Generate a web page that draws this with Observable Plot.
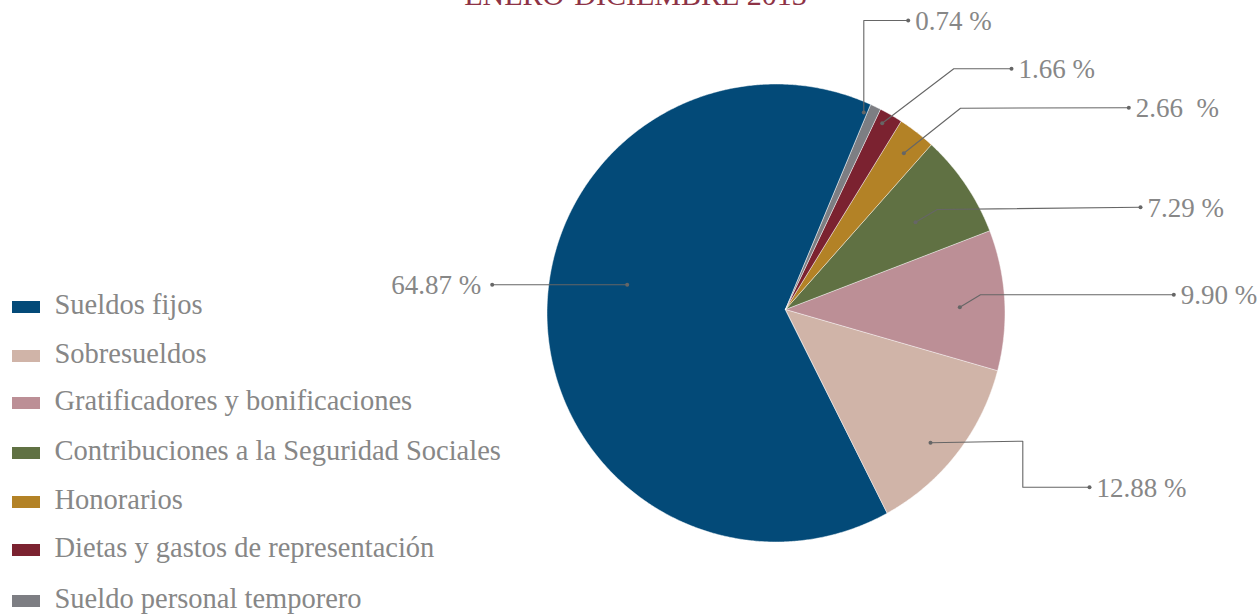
<!DOCTYPE html>
<html><head><meta charset="utf-8">
<script src="https://cdn.jsdelivr.net/npm/d3@7"></script>
<script src="https://cdn.jsdelivr.net/npm/@observablehq/plot@0.6"></script>
<style>body{margin:0;background:#fff;overflow:hidden}</style>
</head><body><div id="chart"></div>
<script>
// ---- data ----
const title = "ENERO-DICIEMBRE 2013";
const categories = [
  "Sueldos fijos",
  "Sobresueldos",
  "Gratificadores y bonificaciones",
  "Contribuciones a la Seguridad Sociales",
  "Honorarios",
  "Dietas y gastos de representación",
  "Sueldo personal temporero"
];
const percents = [64.87, 12.88, 9.90, 7.29, 2.66, 1.66, 0.74];
const valueLabels = ["64.87 %", "12.88 %", "9.90 %", "7.29 %", "2.66  %", "1.66 %", "0.74 %"];

// ---- styles ----
const palette = ["#034a78", "#d0b4a8", "#bc8f96", "#607143", "#b38226", "#7b2230", "#7d7e83"];
const textGray = "#878787";
const lineGray = "#666666";
const font = "Liberation Serif";

// ---- layout ----
const W = 1258, H = 616;
const pieGeom = {cx: 775.5, cy: 312.5, r: 229, ax: 785, ay: 309, startDeg: 24.5};
const legendY = [307, 356, 403, 453, 502, 550, 601];
const leaderPaths = [
  [[626.7, 284.3], [491.7, 284.3]],
  [[930, 442.3], [1022.3, 440.7], [1022.3, 486.7], [1089, 486.7]],
  [[959.3, 306.7], [980, 294.3], [1173.3, 294.3]],
  [[915, 221.7], [936.7, 209], [1140, 206.7]],
  [[903.3, 152.7], [960, 107.7], [1128.3, 107.3]],
  [[881.7, 122.7], [953.3, 68.3], [1011, 68.3]],
  [[863.3, 112], [863.3, 20], [907.7, 20]]
];

// ---- build pie polygons from the data ----
const rad = Math.PI / 180;
const arcs = d3.pie().sort(null)
  .startAngle(pieGeom.startDeg * rad)
  .endAngle(pieGeom.startDeg * rad - 2 * Math.PI)(percents);
const pieRows = [];
arcs.forEach((a, i) => {
  const key = categories[i];
  pieRows.push({key, x: pieGeom.ax, y: pieGeom.ay});
  const n = Math.max(2, Math.ceil(Math.abs(a.endAngle - a.startAngle) / (0.4 * rad)) + 1);
  for (let k = 0; k < n; k++) {
    const t = a.startAngle + (a.endAngle - a.startAngle) * k / (n - 1);
    pieRows.push({key, x: pieGeom.cx + pieGeom.r * Math.sin(t), y: pieGeom.cy - pieGeom.r * Math.cos(t)});
  }
});

const leaderRows = [];
const dotRows = [];
const labelRows = [];
leaderPaths.forEach((pts, i) => {
  pts.forEach(([x, y]) => leaderRows.push({key: categories[i], x, y}));
  dotRows.push({x: pts[0][0], y: pts[0][1]});
  const last = pts[pts.length - 1];
  dotRows.push({x: last[0], y: last[1]});
  const left = last[0] < pts[0][0];
  labelRows.push({x: last[0] + (left ? -11 : 7), y: last[1], text: valueLabels[i], left});
});

const legendRows = categories.map((c, i) => ({key: c, y: legendY[i]}));

const chart = Plot.plot({
  width: W, height: H,
  margin: 0,
  x: {domain: [0, W], range: [0, W], axis: null},
  y: {domain: [0, H], range: [0, H], axis: null},
  color: {type: "ordinal", domain: categories, range: palette},
  style: {fontFamily: font, background: "#fff"},
  marks: [
    Plot.line(pieRows, {x: "x", y: "y", z: "key", fill: "key", stroke: "#ffffff", strokeWidth: 0.7, strokeOpacity: 0.7, curve: "linear-closed"}),
    Plot.line(leaderRows, {x: "x", y: "y", z: "key", stroke: lineGray, strokeWidth: 1.1}),
    Plot.dot(dotRows, {x: "x", y: "y", r: 2, fill: lineGray}),
    Plot.text(labelRows.filter(d => !d.left), {x: "x", y: "y", text: "text", textAnchor: "start", fontFamily: font, fontSize: 27, fill: textGray, dy: 1}),
    Plot.text(labelRows.filter(d => d.left), {x: "x", y: "y", text: "text", textAnchor: "end", fontFamily: font, fontSize: 27, fill: textGray, dy: 1}),
    Plot.rect(legendRows, {x1: () => 12, x2: () => 40, y1: d => d.y - 6, y2: d => d.y + 6, fill: "key"}),
    Plot.text(legendRows, {x: () => 54, y: "y", text: "key", textAnchor: "start", fontFamily: font, fontSize: 28.5, fill: textGray, dy: -2.5}),
    Plot.text([title], {x: () => 635, y: () => -5.3, text: d => d, fontFamily: font, fontSize: 30, fill: "#8e3346", textAnchor: "middle"})
  ]
});
document.getElementById("chart").appendChild(chart);
</script>
</body></html>
